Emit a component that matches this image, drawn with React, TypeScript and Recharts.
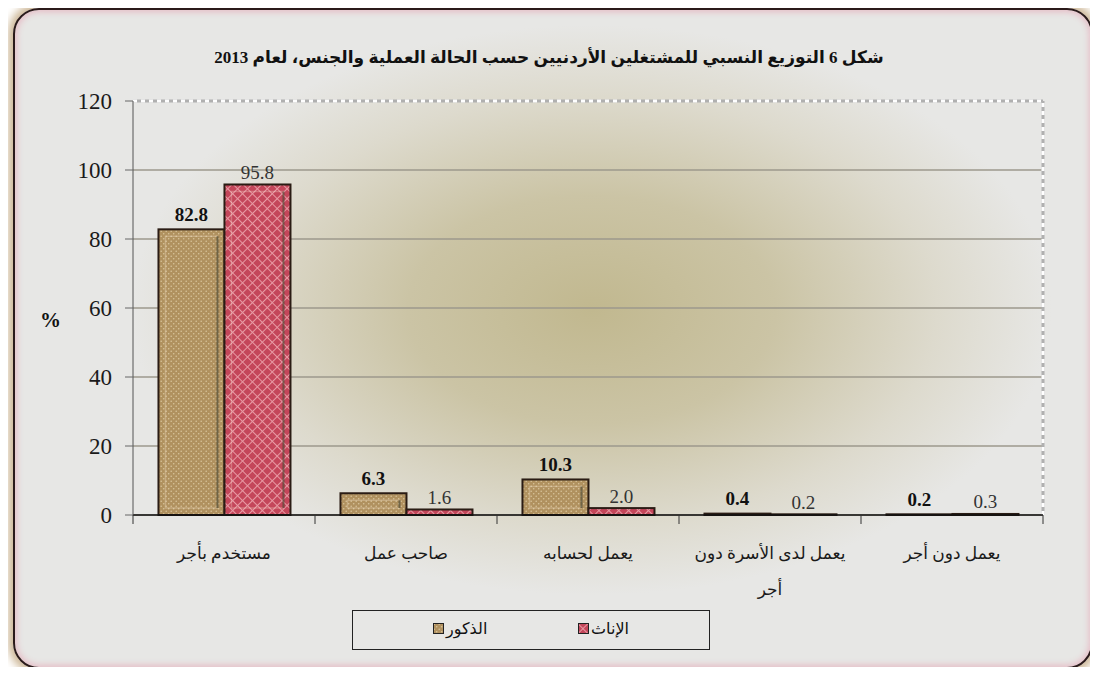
import { Bar, BarChart, CartesianGrid, LabelList, ReferenceLine, XAxis, YAxis } from "recharts"

const categories = ["مستخدم بأجر", "صاحب عمل", "يعمل لحسابه", "يعمل لدى الأسرة دون أجر", "يعمل دون أجر"]
const males = [82.8, 6.3, 10.3, 0.4, 0.2]
const females = [95.8, 1.6, 2.0, 0.2, 0.3]
const yTicks = [0, 20, 40, 60, 80, 100, 120]
const seriesNames = { male: "الذكور", female: "الإناث" }
const title = "شكل 6 التوزيع النسبي للمشتغلين الأردنيين حسب الحالة العملية والجنس، لعام 2013"

const data = categories.map((name, i) => ({ name, male: males[i], female: females[i] }))

const W = 1098
const H = 675
const margin = { top: 101, right: 55, left: 73, bottom: 80 }
const Y_W = 60
const X_H = 80
const PLOT_W = W - margin.left - Y_W - margin.right
const BAND = PLOT_W / categories.length
const AXIS_Y = H - margin.bottom - X_H

const serif = "'Liberation Serif', 'DejaVu Sans', serif"

function wrap(text: string, max = 20) {
  const words = text.split(" ")
  const lines: string[] = []
  let cur = ""
  for (const w of words) {
    const next = cur ? cur + " " + w : w
    if (next.length > max && cur) {
      lines.push(cur)
      cur = w
    } else cur = next
  }
  if (cur) lines.push(cur)
  return lines
}

function CategoryTick(props: any) {
  const { x, payload, index } = props
  const lines = wrap(payload.value)
  const left = x - BAND / 2
  return (
    <g>
      <line x1={left} x2={left} y1={AXIS_Y} y2={AXIS_Y + 9} stroke="#333" />
      {index === categories.length - 1 && (
        <line x1={x + BAND / 2} x2={x + BAND / 2} y1={AXIS_Y} y2={AXIS_Y + 9} stroke="#333" />
      )}
      {lines.map((l, i) => (
        <text key={i} x={x} y={AXIS_Y + 44 + i * 36} textAnchor="middle" fontSize={17} fill="#1a1a1a" fontFamily={serif}>
          {l}
        </text>
      ))}
    </g>
  )
}

function BevelBar(props: any) {
  const { x, y, width, height, fill } = props
  if (height == null || width == null) return null
  const h = Math.max(height, 0.5)
  const inset = 7
  return (
    <g>
      <rect x={x} y={y} width={width} height={h} fill={fill} stroke="#2a1c14" strokeWidth={2} />
      {h > 2 * inset + 4 && (
        <>
          <rect
            x={x + inset}
            y={y + inset}
            width={width - 2 * inset}
            height={h - 2 * inset}
            fill="none"
            stroke="rgba(255,240,220,0.28)"
            strokeWidth={1.5}
          />
          <line
            x1={x + width - inset}
            x2={x + width - inset}
            y1={y + inset}
            y2={y + h - inset}
            stroke="rgba(40,40,20,0.55)"
            strokeWidth={2}
          />
        </>
      )}
    </g>
  )
}

function makeLabel(bold: boolean, off: number) {
  return (props: any) => {
    const { x, y, width, value } = props
    return (
      <text
        x={x + width / 2}
        y={y - off}
        textAnchor="middle"
        dominantBaseline="central"
        fontSize={19}
        fontWeight={bold ? "bold" : "normal"}
        fill={bold ? "#111" : "#333"}
        fontFamily={serif}
      >
        {Number(value).toFixed(1)}
      </text>
    )
  }
}

export default function App() {
  const last = categories[categories.length - 1]
  return (
    <div style={{ position: "relative", width: W, height: H, margin: -8, background: "#fff", overflow: "hidden" }}>
      <div
        style={{
          position: "absolute",
          left: 13,
          top: 8,
          width: 1076,
          height: 657,
          border: "2px solid #2b1a1a",
          borderRadius: 26,
          boxShadow: "0 0 9px 5px #cdb797, inset 0 0 6px 2px #e6bcc6",
          background:
            "radial-gradient(ellipse 460px 285px at 577px 300px, #c1b88f 0%, #cbc4a5 40%, #dddacd 75%, #e7e7e5 100%)",
        }}
      />
      <div
        dir="rtl"
        style={{
          position: "absolute",
          top: 47,
          left: 0,
          width: W,
          textAlign: "center",
          fontSize: 17,
          fontWeight: "bold",
          fontFamily: serif,
          color: "#111",
        }}
      >
        {title}
      </div>
      <div
        style={{
          position: "absolute",
          left: 40,
          top: 308,
          fontSize: 21,
          fontWeight: "bold",
          fontFamily: serif,
          color: "#111",
        }}
      >
        %
      </div>
      <div style={{ position: "absolute", left: 0, top: 0 }}>
        <BarChart width={W} height={H} data={data} margin={margin} barCategoryGap="14%" barGap={0}>
          <defs>
            <pattern id="malePat" width="5" height="5" patternUnits="userSpaceOnUse">
              <rect width="5" height="5" fill="#b0915f" />
              <circle cx="1.2" cy="1.2" r="0.8" fill="#d8c49a" />
              <circle cx="3.7" cy="3.7" r="0.8" fill="#d8c49a" />
            </pattern>
            <pattern id="femalePat" width="7" height="7" patternUnits="userSpaceOnUse" patternTransform="rotate(45)">
              <rect width="7" height="7" fill="#c4465a" />
              <line x1="0" y1="0" x2="7" y2="0" stroke="#e89aa4" strokeWidth="2" />
              <line x1="0" y1="0" x2="0" y2="7" stroke="#e89aa4" strokeWidth="2" />
            </pattern>
          </defs>
          <CartesianGrid vertical={false} stroke="#9d988c" strokeWidth={1.5} />
          <XAxis
            dataKey="name"
            height={X_H}
            tickLine={false}
            interval={0}
            axisLine={{ stroke: "#111", strokeWidth: 1.5 }}
            tick={<CategoryTick />}
          />
          <YAxis
            width={Y_W}
            domain={[0, 120]}
            ticks={yTicks}
            tickSize={8}
            tickMargin={13}
            axisLine={{ stroke: "#555" }}
            tickLine={{ stroke: "#666" }}
            tick={{ fontSize: 23, fill: "#1a1a1a", fontFamily: serif }}
          />
          <ReferenceLine y={120} stroke="#b0b0b0" strokeWidth={3} />
          <ReferenceLine y={120} stroke="#ffffff" strokeWidth={3} strokeDasharray="4 4" />
          <ReferenceLine x={last} position="end" stroke="#b0b0b0" strokeWidth={3} />
          <ReferenceLine x={last} position="end" stroke="#ffffff" strokeWidth={3} strokeDasharray="4 4" />
          <Bar dataKey="male" name={seriesNames.male} fill="url(#malePat)" shape={<BevelBar />} isAnimationActive={false}>
            <LabelList dataKey="male" content={makeLabel(true, 15)} />
          </Bar>
          <Bar dataKey="female" name={seriesNames.female} fill="url(#femalePat)" shape={<BevelBar />} isAnimationActive={false}>
            <LabelList dataKey="female" content={makeLabel(false, 12)} />
          </Bar>
        </BarChart>
      </div>
      <div
        style={{
          position: "absolute",
          left: 352,
          top: 610,
          width: 356,
          height: 38,
          border: "1.5px solid #222",
          fontFamily: serif,
          fontSize: 16,
          color: "#111",
        }}
      >
        {[
          { name: seriesNames.male, fill: "url(#malePat)", left: 80 },
          { name: seriesNames.female, fill: "url(#femalePat)", left: 225 },
        ].map((it) => (
          <div key={it.name} style={{ position: "absolute", left: it.left, top: 8, display: "flex", alignItems: "center", gap: 2 }}>
            <svg width={11} height={11}>
              <rect x={0.5} y={0.5} width={10} height={10} fill={it.fill} stroke="#222" />
            </svg>
            <span dir="rtl">{it.name}</span>
          </div>
        ))}
      </div>
    </div>
  )
}
